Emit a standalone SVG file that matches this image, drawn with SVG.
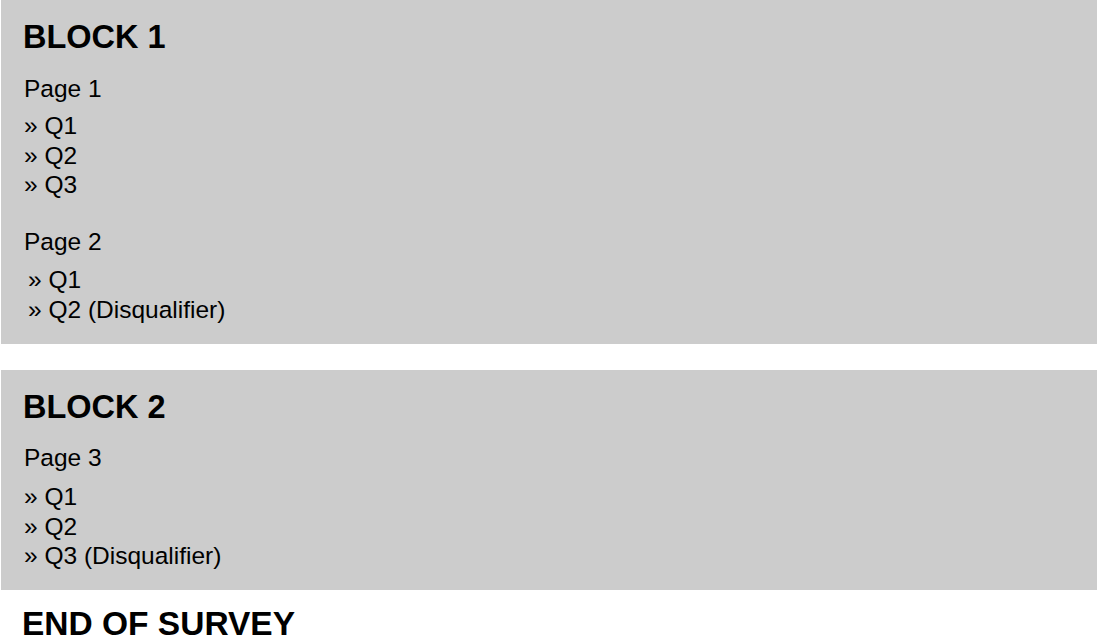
<svg xmlns="http://www.w3.org/2000/svg" width="1097" height="639" viewBox="0 0 1097 639">
<style>
.blk{fill:#cccccc}
.h{font-family:"Liberation Sans",Arial,sans-serif;font-weight:bold;font-size:32.5px;fill:#000}
.t{font-family:"Liberation Sans",Arial,sans-serif;font-size:24.5px;fill:#000}
</style>
<rect width="1097" height="639" fill="#ffffff"/>
<g id="block1">
<rect class="blk" x="1" y="0" width="1096" height="344"/>
<text class="h" x="23" y="48">BLOCK 1</text>
<text class="t" x="24" y="97">Page 1</text>
<text class="t" x="24" y="134">» Q1</text>
<text class="t" x="24" y="164">» Q2</text>
<text class="t" x="24" y="193">» Q3</text>
<text class="t" x="24" y="250">Page 2</text>
<text class="t" x="28" y="288">» Q1</text>
<text class="t" x="28" y="318">» Q2 (Disqualifier)</text>
</g>
<g id="block2">
<rect class="blk" x="1" y="370" width="1096" height="220"/>
<text class="h" x="23" y="418">BLOCK 2</text>
<text class="t" x="24" y="466">Page 3</text>
<text class="t" x="24" y="505">» Q1</text>
<text class="t" x="24" y="535">» Q2</text>
<text class="t" x="24" y="564">» Q3 (Disqualifier)</text>
</g>
<g id="end">
<text class="h" x="22" y="635" style="font-size:33.5px">END OF SURVEY</text>
</g>
<g id="connectors"></g>
</svg>
